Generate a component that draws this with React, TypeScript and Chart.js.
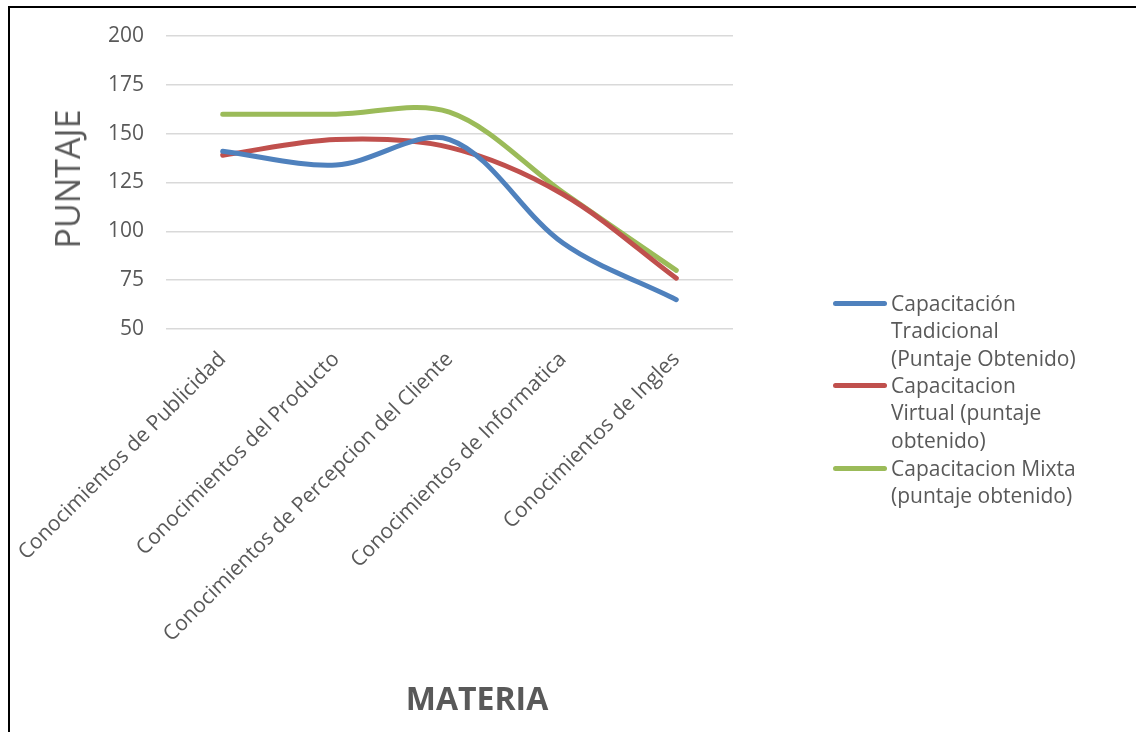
import React, { useEffect, useRef } from "react";
import { Chart, registerables } from "chart.js";

Chart.register(...registerables);

const categories = [
  "Conocimientos de Publicidad",
  "Conocimientos del Producto",
  "Conocimientos de Percepcion del Cliente",
  "Conocimientos de Informatica",
  "Conocimientos de Ingles",
];
const tradicional = [141, 134, 147, 94, 65];
const virtual = [139, 147, 143, 119, 76];
const mixta = [160, 160, 161, 120, 80];

const seriesNames = [
  ["Capacitación", "Tradicional", "(Puntaje Obtenido)"],
  ["Capacitacion", "Virtual (puntaje", "obtenido)"],
  ["Capacitacion Mixta", "(puntaje obtenido)"],
];
const seriesColors = ["#4F81BD", "#C0504D", "#9BBB59"];
const yTitle = "PUNTAJE";
const xTitle = "MATERIA";

const FONT = "'Open Sans', 'Liberation Sans', sans-serif";
const TEXT = "#595959";

export default function App() {
  const ref = useRef<HTMLCanvasElement | null>(null);

  useEffect(() => {
    if (!ref.current) return;
    const values = [tradicional, virtual, mixta];
    const chart = new Chart(ref.current, {
      type: "line",
      data: {
        labels: categories,
        datasets: values.map((v, i) => ({
          label: seriesNames[i].join(" "),
          data: v,
          borderColor: seriesColors[i],
          backgroundColor: seriesColors[i],
          borderWidth: 5,
          pointRadius: 0,
          tension: 0.33,
          borderCapStyle: "round" as const,
          fill: false,
        })),
      },
      options: {
        responsive: false,
        animation: false,
        layout: { padding: { top: 36, right: 403, left: 0, bottom: 0 } },
        plugins: {
          legend: { display: false },
          tooltip: { enabled: false },
        },
        scales: {
          x: {
            offset: true,
            grid: { display: false },
            border: { display: false },
            ticks: {
              minRotation: 45,
              maxRotation: 45,
              padding: 10,
              color: TEXT,
              font: { family: FONT, size: 21 },
            },
            afterFit: (s: any) => {
              s.height = 403;
              s.paddingLeft = 0;
              s.paddingRight = 0;
            },
          },
          y: {
            min: 50,
            max: 200,
            grid: { color: "#d9d9d9", lineWidth: 1.5, drawTicks: false },
            border: { display: false },
            ticks: {
              stepSize: 25,
              padding: 22,
              color: TEXT,
              font: { family: FONT, size: 21 },
            },
            afterFit: (s: any) => {
              s.width = 166;
            },
          },
        },
      },
    });
    return () => chart.destroy();
  }, []);

  const legendTops = [303, 385, 468];

  return (
    <div style={{ position: "fixed", left: 0, top: 0, width: 1136, height: 732, overflow: "hidden", background: "#fff" }}>
      <div
        style={{
          position: "absolute",
          left: 8,
          top: 6,
          width: 1300,
          height: 900,
          borderTop: "2px solid #000",
          borderLeft: "2px solid #000",
        }}
      />
      <canvas ref={ref} width={1136} height={732} style={{ position: "absolute", left: 0, top: 0 }} />
      <div
        style={{
          position: "absolute",
          left: 67,
          top: 179,
          transform: "translate(-50%, -50%) rotate(-90deg)",
          whiteSpace: "nowrap",
          fontFamily: FONT,
          fontSize: 34,
          color: TEXT,
          lineHeight: 1,
        }}
      >
        {yTitle}
      </div>
      <div
        style={{
          position: "absolute",
          left: 477,
          top: 698,
          transform: "translate(-50%, -50%)",
          whiteSpace: "nowrap",
          fontFamily: FONT,
          fontSize: 32,
          fontWeight: 700,
          color: TEXT,
          lineHeight: 1,
        }}
      >
        {xTitle}
      </div>
      {seriesNames.map((lines, i) => (
        <div key={i}>
          <div
            style={{
              position: "absolute",
              left: 833,
              top: legendTops[i] - 2.5,
              width: 54,
              height: 5,
              borderRadius: 3,
              background: seriesColors[i],
            }}
          />
          {lines.map((t, j) => (
            <div
              key={j}
              style={{
                position: "absolute",
                left: 891,
                top: legendTops[i] + j * 27.3 - 14,
                height: 28,
                lineHeight: "28px",
                whiteSpace: "nowrap",
                fontFamily: FONT,
                fontSize: 21,
                color: TEXT,
              }}
            >
              {t}
            </div>
          ))}
        </div>
      ))}
    </div>
  );
}
